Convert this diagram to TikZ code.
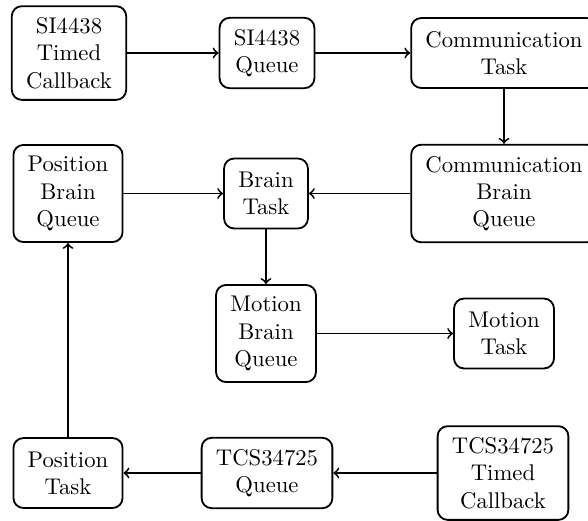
\documentclass[tikz,border=0pt]{standalone}
\begin{document}
\begin{tikzpicture}[x=0.4405pt,y=-0.4405pt,
  box/.style={draw,thick,rounded corners=4.4pt,align=center,inner xsep=6.3pt,inner ysep=5pt,minimum height=30.8pt},
  conn/.style={->,thick}]
\useasboundingbox (0,0) rectangle (588,520);
\node[box] (sicb) at (69,53) {SI4438\\Timed\\Callback};
\node[box] (siq) at (267,53) {SI4438\\Queue};
\node[box] (comt) at (504,53) {Communication\\Task};
\node[box] (combq) at (504,193.5) {Communication\\Brain\\Queue};
\node[box] (brain) at (266,193.5) {Brain\\Task};
\node[box] (posbq) at (68,193.5) {Position\\Brain\\Queue};
\node[box] (motbq) at (266,333.5) {Motion\\Brain\\Queue};
\node[box] (mott) at (504,333.5) {Motion\\Task};
\node[box] (post) at (68,473) {Position\\Task};
\node[box] (tcsq) at (267,473) {TCS34725\\Queue};
\node[box] (tcscb) at (503,473) {TCS34725\\Timed\\Callback};
\draw[conn] (sicb) -- (siq);
\draw[conn] (siq) -- (comt);
\draw[conn] (comt) -- (combq);
\draw[conn] (combq) -- (brain);
\draw[conn] (posbq) -- (brain);
\draw[conn] (brain) -- (motbq);
\draw[conn] (motbq) -- (mott);
\draw[conn] (tcscb) -- (tcsq);
\draw[conn] (tcsq) -- (post);
\draw[conn] (post) -- (posbq);
\end{tikzpicture}
\end{document}
